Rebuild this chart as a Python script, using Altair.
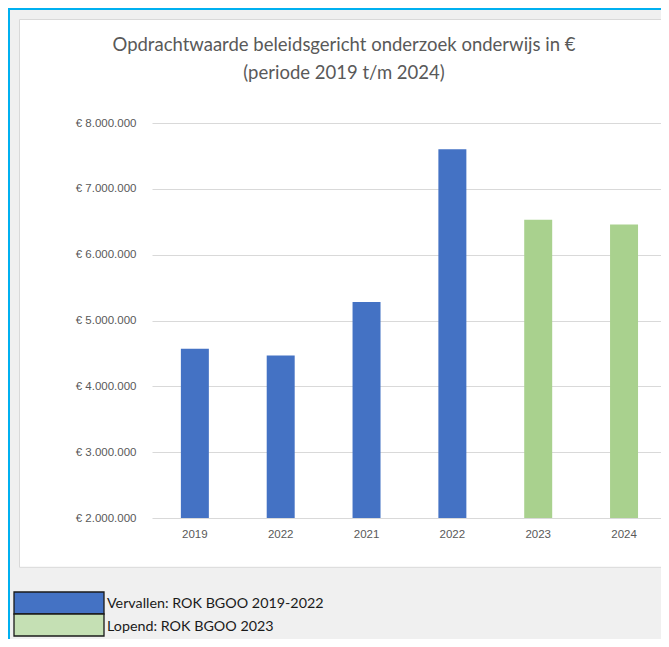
import altair as alt
import pandas as pd

# ---- data ----
categories = ["2019", "2022", "2021", "2022", "2023", "2024"]
values = [4570000, 4470000, 5280000, 7600000, 6530000, 6460000]
series = ["Vervallen: ROK BGOO 2019-2022"] * 4 + ["Lopend: ROK BGOO 2023"] * 2
series_names = ["Vervallen: ROK BGOO 2019-2022", "Lopend: ROK BGOO 2023"]
bar_colors = ["#4472c4", "#a9d18e"]
legend_colors = ["#4472c4", "#c5e0b4"]
y_ticks = [2000000, 3000000, 4000000, 5000000, 6000000, 7000000, 8000000]
title_lines = ["Opdrachtwaarde beleidsgericht onderzoek onderwijs in €",
               "(periode 2019 t/m 2024)"]

df = pd.DataFrame({
    "slot": [str(i) for i in range(len(categories))],
    "label": categories,
    "value": values,
    "series": series,
})
one = pd.DataFrame({"k": [0]})

W, H = 509, 395
BOTTOM = 516  # plot-coordinate bottom of the canvas
RIGHT = 509
GREY = "#f0f0f0"
TXT = "#595959"

label_expr = "[" + ",".join("'%s'" % c for c in categories) + "][toNumber(datum.value)]"

bars = alt.Chart(df).mark_bar().encode(
    x=alt.X("slot:O", sort=None,
            scale=alt.Scale(paddingInner=0.674, paddingOuter=0.302, align=0.557),
            axis=alt.Axis(title=None, labelExpr=label_expr, labelAngle=0, ticks=False,
                          domain=False, grid=False, labelFont="Liberation Sans",
                          labelFontSize=11.5, labelColor=TXT, labelPadding=10)),
    y=alt.Y("value:Q",
            scale=alt.Scale(domain=[2000000, 8000000], nice=False, zero=False),
            axis=alt.Axis(title=None, values=y_ticks,
                          labelExpr="'€ ' + format(datum.value/1000000,'d') + '.000.000'",
                          ticks=False, domain=False, gridColor="#d9d9d9", gridWidth=1,
                          labelFont="Liberation Sans", labelFontSize=11.5,
                          labelColor=TXT, labelPadding=16)),
    y2=alt.datum(2000000),
    color=alt.Color("series:N", scale=alt.Scale(domain=series_names, range=bar_colors),
                    legend=None),
)

def rect(x, x2, y, y2, **kw):
    return alt.Chart(one).mark_rect(**kw).encode(
        x=alt.value(x), x2=alt.value(x2), y=alt.value(y), y2=alt.value(y2))

grey_top = rect(-144, RIGHT, -115, -103.5, color=GREY)
grey_left = rect(-144, -132.5, -115, BOTTOM, color=GREY)
grey_bottom = rect(-144, RIGHT, 444.3, BOTTOM, color=GREY)
area_border = rect(-132.5, RIGHT + 10, -103.5, 444.3, fillOpacity=0, stroke="#d9d9d9", strokeWidth=1)

blue_left = alt.Chart(one).mark_rule(color="#00b0f0", strokeWidth=2).encode(
    x=alt.value(-143), y=alt.value(-115), y2=alt.value(BOTTOM))
blue_top = alt.Chart(one).mark_rule(color="#00b0f0", strokeWidth=2).encode(
    y=alt.value(-114), x=alt.value(-144), x2=alt.value(RIGHT))

def text(s, x, y, **kw):
    return alt.Chart(one).mark_text(**kw).encode(
        x=alt.value(x), y=alt.value(y), text=alt.value(s))

title1 = text(title_lines[0], 192, -78, font="Lato", fontSize=18.5, color=TXT,
              align="center", baseline="middle")
title2 = text(title_lines[1], 192, -50, font="Lato", fontSize=18.5, color=TXT,
              align="center", baseline="middle")

leg_blue = rect(-138, -48, 469, 491, color=legend_colors[0], stroke="#1a1a1a", strokeWidth=1.3)
leg_green = rect(-138, -48, 491, 513, color=legend_colors[1], stroke="#1a1a1a", strokeWidth=1.3)
leg_t1 = text(series_names[0], -45, 481, font="Lato", fontSize=14.3, color="#1a1a1a",
              align="left", baseline="middle")
leg_t2 = text(series_names[1], -45, 504, font="Lato", fontSize=14.3, color="#1a1a1a",
              align="left", baseline="middle")

chart = alt.layer(
    bars, grey_top, grey_left, grey_bottom, area_border, blue_left, blue_top,
    title1, title2, leg_blue, leg_green, leg_t1, leg_t2,
).properties(
    width=W, height=H,
    padding={"left": 144, "top": 115, "right": 0, "bottom": 121},
    autosize="none",
    background="white",
).configure_view(stroke=None)

chart.save("out.html", embed_options={"renderer": "svg", "actions": False})
